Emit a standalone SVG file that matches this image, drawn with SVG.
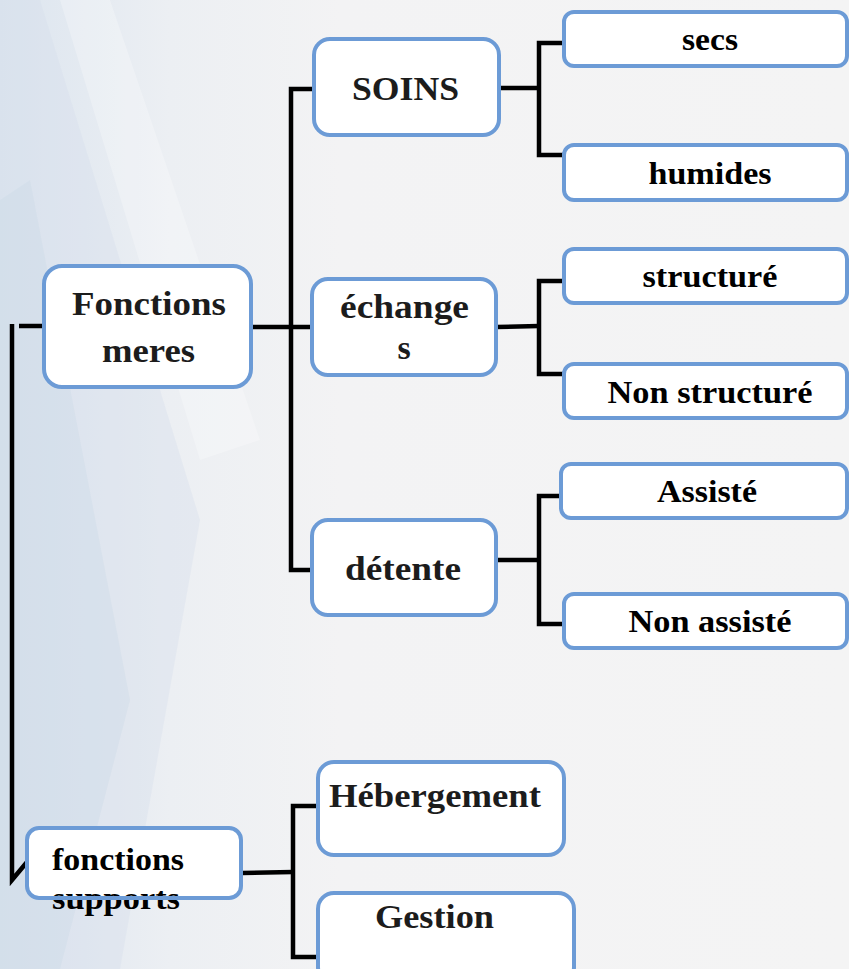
<svg xmlns="http://www.w3.org/2000/svg" width="849" height="969" viewBox="0 0 849 969">
<defs>
<linearGradient id="bg" x1="0" y1="0" x2="1" y2="0">
<stop offset="0" stop-color="#dce5ef"/>
<stop offset="0.2" stop-color="#eceff3"/>
<stop offset="0.4" stop-color="#f3f3f4"/>
<stop offset="1" stop-color="#f4f4f4"/>
</linearGradient>
<style>
.box{fill:#ffffff;stroke:#6c9bd6;stroke-width:4}
.edge{fill:none;stroke:#000;stroke-width:4.5;stroke-linejoin:miter}
.main{font-family:"Liberation Serif","Times New Roman",serif;font-weight:bold;font-size:34px;fill:#1c1c1c;text-anchor:middle}
.leaf{font-family:"Liberation Serif","Times New Roman",serif;font-weight:bold;font-size:32px;fill:#000;text-anchor:middle}
.sup{font-family:"Liberation Serif","Times New Roman",serif;font-weight:bold;font-size:32px;fill:#000}
</style>
</defs>
<rect x="0" y="0" width="849" height="969" fill="url(#bg)"/>
<polygon points="0,0 40,0 200,520 120,969 0,969" fill="#d3deea" opacity="0.35"/>
<polygon points="0,200 30,180 130,700 60,969 0,969" fill="#c8d6e6" opacity="0.3"/>
<polygon points="60,0 110,0 260,440 200,460" fill="#ffffff" opacity="0.25"/>

<g id="connectors">
<polyline class="edge" points="19,326 43,326"/>
<polyline class="edge" points="12,324 12,880 27,862"/>
<polyline class="edge" points="251,327 312,327"/>
<polyline class="edge" points="314,89 291,89 291,570 312,570"/>
<polyline class="edge" points="499,88 539,88"/>
<polyline class="edge" points="564,43 539,43 539,155 564,155"/>
<polyline class="edge" points="496,327 539,326"/>
<polyline class="edge" points="564,281 539,281 539,374 564,374"/>
<polyline class="edge" points="496,560 539,560"/>
<polyline class="edge" points="561,496 539,496 539,624 564,624"/>
<polyline class="edge" points="241,873 293,872"/>
<polyline class="edge" points="318,806 293,806 293,957 318,957"/>
</g>

<g id="fonctions-meres">
<rect class="box" x="44" y="266" width="207" height="121" rx="18"/>
<text class="main" x="149" y="315" textLength="154" lengthAdjust="spacingAndGlyphs">Fonctions</text>
<text class="main" x="148.5" y="362" textLength="93" lengthAdjust="spacingAndGlyphs">meres</text>
</g>

<g id="soins">
<rect class="box" x="314" y="39" width="185" height="96" rx="16"/>
<text class="main" x="405.5" y="100" textLength="107" lengthAdjust="spacingAndGlyphs">SOINS</text>
</g>
<g id="echanges">
<rect class="box" x="312" y="279" width="184" height="96" rx="16"/>
<text class="main" x="404.5" y="318" textLength="129" lengthAdjust="spacingAndGlyphs">échange</text>
<text class="main" x="404" y="359">s</text>
</g>
<g id="detente">
<rect class="box" x="312" y="520" width="184" height="95" rx="16"/>
<text class="main" x="403" y="580" textLength="116" lengthAdjust="spacingAndGlyphs">détente</text>
</g>

<g id="secs">
<rect class="box" x="564" y="12" width="283" height="54" rx="10"/>
<text class="leaf" x="710" y="50" textLength="56" lengthAdjust="spacingAndGlyphs">secs</text>
</g>
<g id="humides">
<rect class="box" x="564" y="145" width="283" height="55" rx="10"/>
<text class="leaf" x="710" y="184" textLength="123" lengthAdjust="spacingAndGlyphs">humides</text>
</g>
<g id="structure">
<rect class="box" x="564" y="249" width="283" height="54" rx="10"/>
<text class="leaf" x="710" y="287" textLength="135" lengthAdjust="spacingAndGlyphs">structuré</text>
</g>
<g id="non-structure">
<rect class="box" x="564" y="364" width="283" height="54" rx="10"/>
<text class="leaf" x="710" y="403" textLength="205" lengthAdjust="spacingAndGlyphs">Non structuré</text>
</g>
<g id="assiste">
<rect class="box" x="561" y="464" width="286" height="54" rx="10"/>
<text class="leaf" x="707" y="502" textLength="100" lengthAdjust="spacingAndGlyphs">Assisté</text>
</g>
<g id="non-assiste">
<rect class="box" x="564" y="594" width="283" height="54" rx="10"/>
<text class="leaf" x="710" y="632" textLength="163" lengthAdjust="spacingAndGlyphs">Non assisté</text>
</g>

<g id="fonctions-supports">
<rect x="27" y="828" width="214" height="70" rx="12" fill="#ffffff"/>
<text class="sup" x="52" y="870" textLength="132" lengthAdjust="spacingAndGlyphs">fonctions</text>
<text class="sup" x="52" y="909" textLength="128" lengthAdjust="spacingAndGlyphs">supports</text>
<rect x="27" y="828" width="214" height="70" rx="12" fill="none" stroke="#6c9bd6" stroke-width="4"/>
</g>

<g id="hebergement">
<rect class="box" x="318" y="762" width="246" height="93" rx="16"/>
<text class="main" x="435" y="807" textLength="212" lengthAdjust="spacingAndGlyphs">Hébergement</text>
</g>
<g id="gestion">
<rect class="box" x="318" y="893" width="256" height="90" rx="16"/>
<text class="main" x="434.5" y="928" textLength="119" lengthAdjust="spacingAndGlyphs">Gestion</text>
</g>
</svg>
